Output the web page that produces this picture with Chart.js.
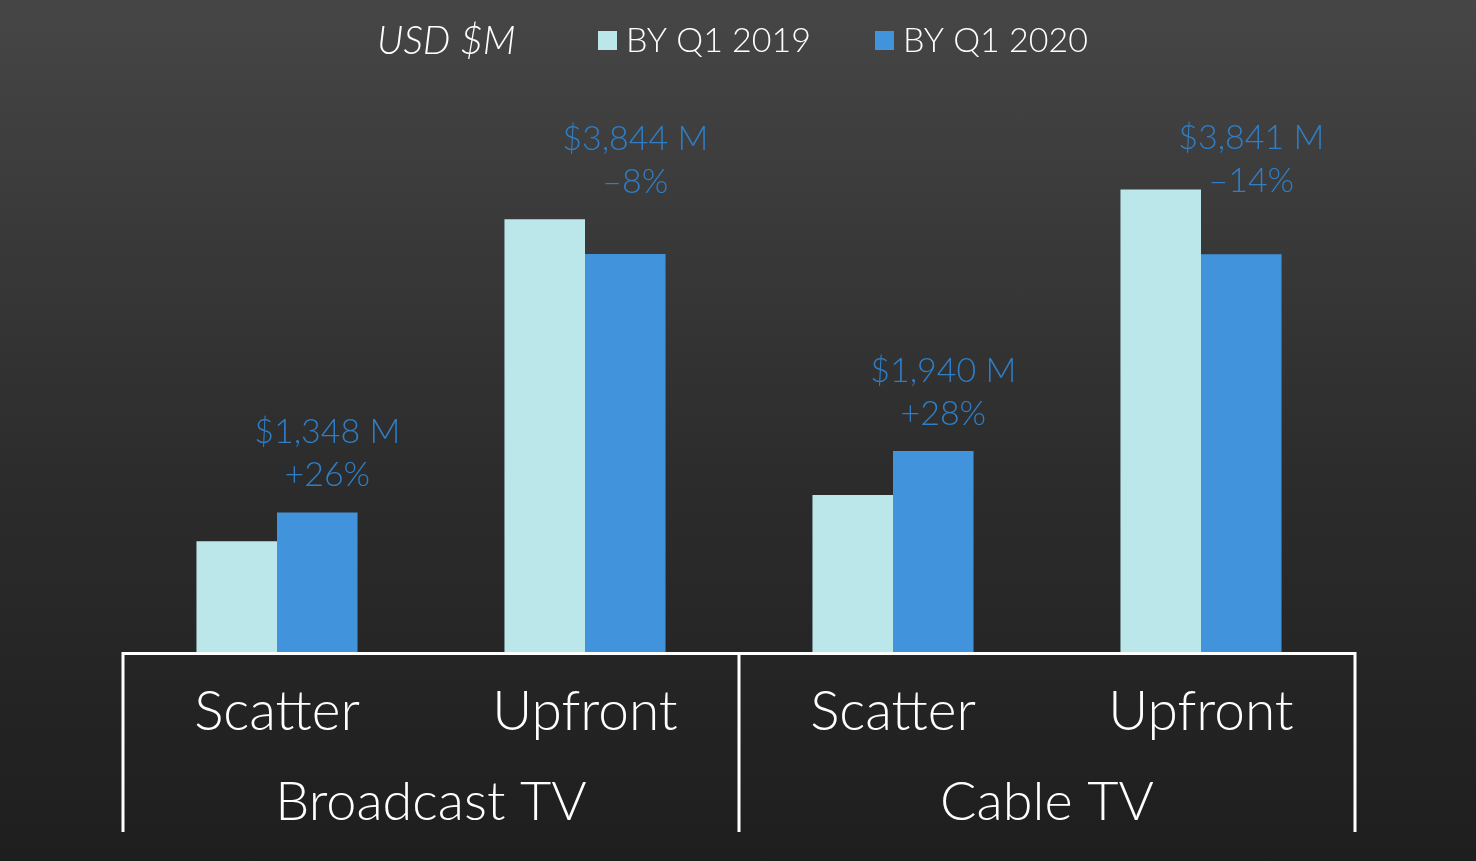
<!DOCTYPE html>
<html>
<head>
<meta charset="utf-8">
<script src="https://cdn.jsdelivr.net/npm/chart.js@4.4.0/dist/chart.umd.min.js"></script>
<style>
  html, body { margin: 0; padding: 0; }
  body {
    width: 1476px; height: 861px; overflow: hidden;
    background: linear-gradient(to bottom, #464646 0%, #2c2c2c 55%, #1e1e1e 100%);
  }
  #wrap { width: 1476px; height: 861px; }
</style>
</head>
<body>
<div id="wrap"><canvas id="tvChart"></canvas></div>
<script>
// categories: sub-type and its channel group
const subTypes = ['Scatter', 'Upfront', 'Scatter', 'Upfront'];
const groups = ['Broadcast TV', 'Cable TV'];
const seriesNames = ['BY Q1 2019', 'BY Q1 2020'];
// USD $M
const values2019 = [1070, 4178, 1516, 4466];
const values2020 = [1348, 3844, 1940, 3841];
const changeLabels = ['+26%', '-8%', '+28%', '-14%'];

const FONT = 'Lato, "Noto Sans", sans-serif';

const fmtMoney = (v) => '$' + v.toLocaleString('en-US') + ' M';

// labels above each category, centred near the 2020 bar
const barLabels = {
    id: 'barLabels',
    afterDatasetsDraw(chart) {
        const ctx = chart.ctx;
        const prev = chart.getDatasetMeta(0);
        const meta = chart.getDatasetMeta(1);
        ctx.save();
        ctx.fillStyle = '#2f7ec6';
        ctx.font = '300 34px ' + FONT;
        ctx.textAlign = 'center';
        ctx.textBaseline = 'middle';
        meta.data.forEach((bar, i) => {
            const top = Math.min(bar.y, prev.data[i].y);
            // keep the label block from running up into the legend
            const y1 = Math.max(top - 80, chart.chartArea.top + 38);
            const cx = bar.x + 10;
            ctx.fillText(fmtMoney(values2020[i]), cx, y1);
            ctx.fillText(changeLabels[i].replace('-', '\u2013'), cx, y1 + 43);
        });
        ctx.restore();
    }
};

// two-level category axis drawn from the x scale
const groupAxis = {
    id: 'groupAxis',
    afterDraw(chart) {
        const ctx = chart.ctx;
        const x = chart.scales.x;
        const area = chart.chartArea;
        const step = x.getPixelForValue(1) - x.getPixelForValue(0);
        const bottom = area.bottom + 180;
        ctx.save();
        ctx.strokeStyle = '#ffffff';
        ctx.lineWidth = 3;
        ctx.beginPath();
        ctx.moveTo(area.left, area.bottom + 1.5);
        ctx.lineTo(area.right, area.bottom + 1.5);
        [0, 2, 4].forEach((k) => {
            const px = x.getPixelForValue(k) - step / 2;
            ctx.moveTo(px, area.bottom);
            ctx.lineTo(px, bottom);
        });
        ctx.stroke();

        ctx.fillStyle = '#ffffff';
        ctx.textAlign = 'center';
        ctx.textBaseline = 'middle';
        ctx.font = '300 55px ' + FONT;
        subTypes.forEach((t, i) => {
            ctx.fillText(t, x.getPixelForValue(i), area.bottom + 60);
        });
        ctx.font = '300 54px ' + FONT;
        groups.forEach((g, j) => {
            const px = (x.getPixelForValue(j * 2) + x.getPixelForValue(j * 2 + 1)) / 2;
            ctx.fillText(g, px, area.bottom + 151);
        });
        ctx.restore();
    }
};

// legend row with unit note
const topLegend = {
    id: 'topLegend',
    afterDraw(chart) {
        const ctx = chart.ctx;
        const cy = 41;
        ctx.save();
        ctx.textBaseline = 'middle';
        ctx.textAlign = 'left';
        ctx.fillStyle = '#ffffff';
        ctx.font = 'italic 300 39px ' + FONT;
        ctx.fillText('USD $M', 377, cy);
        ctx.font = '300 34px ' + FONT;
        let lx = 598;
        chart.data.datasets.forEach((ds) => {
            ctx.fillStyle = ds.backgroundColor;
            ctx.fillRect(lx, cy - 10, 19, 19);
            ctx.fillStyle = '#ffffff';
            ctx.fillText(ds.label, lx + 28, cy);
            lx += 28 + ctx.measureText(ds.label).width + 64;
        });
        ctx.restore();
    }
};

new Chart(document.getElementById('tvChart'), {
    type: 'bar',
    data: {
        labels: subTypes,
        datasets: [
            {
                label: seriesNames[0],
                data: values2019,
                backgroundColor: '#bce7ea',
                barPercentage: 1,
                categoryPercentage: 0.523
            },
            {
                label: seriesNames[1],
                data: values2020,
                backgroundColor: '#4194dc',
                barPercentage: 1,
                categoryPercentage: 0.523
            }
        ]
    },
    options: {
        responsive: true,
        maintainAspectRatio: false,
        animation: false,
        layout: {
            padding: { left: 123, right: 121, top: 100, bottom: 209 }
        },
        plugins: {
            legend: { display: false },
            tooltip: { enabled: false }
        },
        scales: {
            x: { display: false },
            y: { display: false, min: 0, max: 5330 }
        }
    },
    plugins: [barLabels, groupAxis, topLegend]
});
</script>
</body>
</html>
